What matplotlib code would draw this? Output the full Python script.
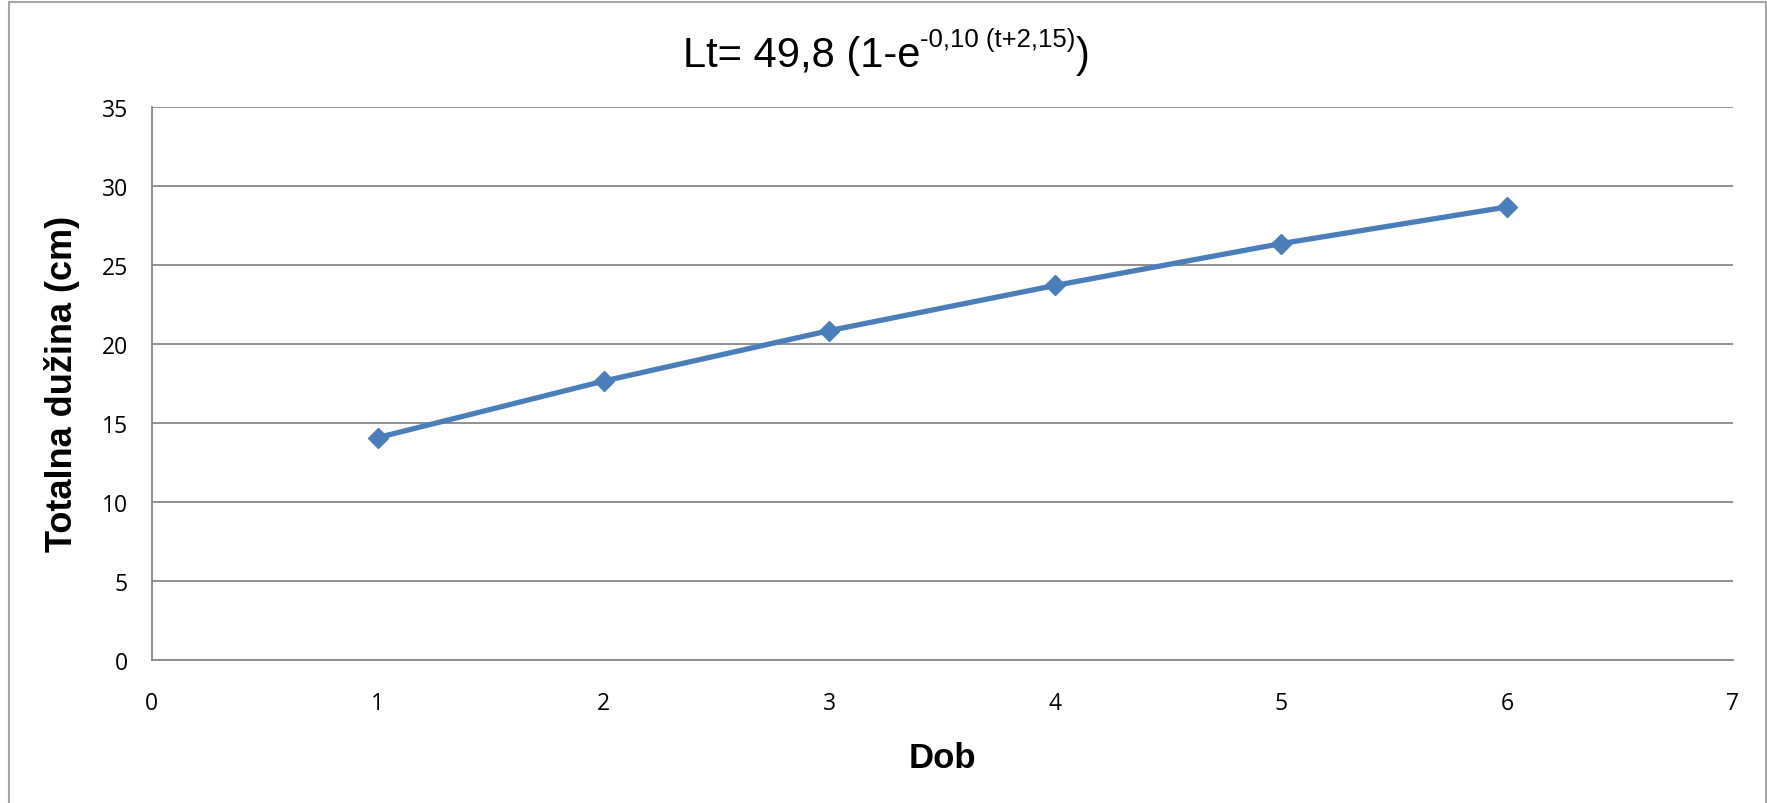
import matplotlib
matplotlib.use("Agg")
import matplotlib.pyplot as plt
from matplotlib.patches import Rectangle

# data
dob = [1, 2, 3, 4, 5, 6]
duzina = [14.08, 17.66, 20.86, 23.72, 26.37, 28.69]
xticks = [0, 1, 2, 3, 4, 5, 6, 7]
yticks = [0, 5, 10, 15, 20, 25, 30, 35]

W, H = 1767, 804
fig = plt.figure(figsize=(W / 100, H / 100), dpi=100)
ax = fig.add_axes([151.7 / W, 1 - 661 / H, (1733 - 151.7) / W, (661 - 108.3) / H])

line_col = '#4a7ebb'
grid_col = '#878787'

ax.plot(dob, duzina, color=line_col, lw=3.8, marker='D', ms=10.5,
        mfc=line_col, mec=line_col, mew=1, zorder=3)

ax.set_xlim(0, 7)
ax.set_ylim(0, 35)
ax.set_xticks(xticks)
ax.set_yticks(yticks)
ax.yaxis.grid(True, color=grid_col, lw=1.3)
ax.set_axisbelow(True)
for s in ['top', 'right']:
    ax.spines[s].set_visible(False)
for s in ['left', 'bottom']:
    ax.spines[s].set_color(grid_col)
    ax.spines[s].set_linewidth(1.3)
ax.tick_params(axis='y', length=0, pad=17, labelsize=16.5, labelcolor='black')
ax.tick_params(axis='x', length=0, pad=22, labelsize=16.5, labelcolor='black')
for lab in ax.get_xticklabels() + ax.get_yticklabels():
    lab.set_fontfamily('Open Sans')

# axis titles
fig.text(942 / W, (H - 767.7) / H, 'Dob', ha='center', va='baseline',
         fontsize=25, fontweight='bold', family='Liberation Sans')
fig.text(62 / W, 1 - 384 / H, 'Totalna dužina (cm)', rotation=90,
         ha='center', va='center', fontsize=26, fontweight='bold',
         family='Liberation Sans')

# title with superscript, built from three pieces
renderer = fig.canvas.get_renderer()
base_y = (H - 66.7) / H
sup_y = (H - 47) / H
t1 = fig.text(0, base_y, 'Lt= 49,8 (1-e', fontsize=30,
              family='Liberation Sans', va='baseline')
t2 = fig.text(0, sup_y, '-0,10 (t+2,15)', fontsize=18.5,
              family='Liberation Sans', va='baseline')
t3 = fig.text(0, base_y, ')', fontsize=30,
              family='Liberation Sans', va='baseline')
w1 = t1.get_window_extent(renderer).width
w2 = t2.get_window_extent(renderer).width
w3 = t3.get_window_extent(renderer).width
x0 = 886 - (w1 + w2 + w3) / 2
t1.set_x(x0 / W)
t2.set_x((x0 + w1) / W)
t3.set_x((x0 + w1 + w2) / W)

# outer chart border
fig.patches.append(Rectangle((9 / W, -0.05), (1766 - 9) / W, 1.05 - 3 / H,
                             transform=fig.transFigure, fill=False,
                             edgecolor='#a6a6a6', lw=1.5))

fig.savefig('out.png', dpi=100)
